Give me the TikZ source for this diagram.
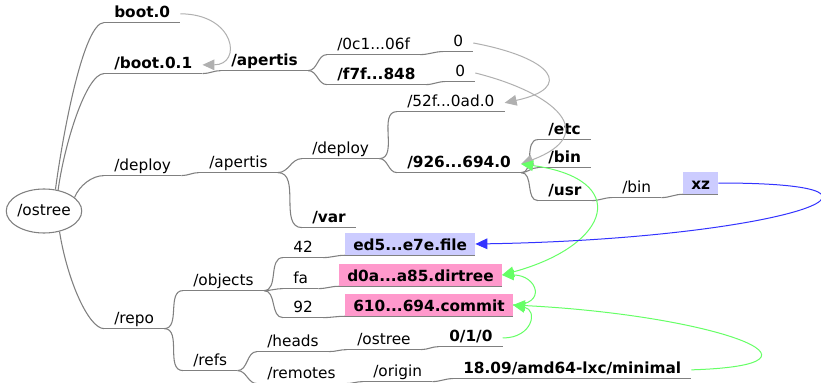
\documentclass[tikz,border=0pt]{standalone}
\usepackage{fontspec}
\setmainfont{DejaVu Sans}
\usetikzlibrary{shapes.geometric,arrows.meta}
\definecolor{edgegrey}{HTML}{808080}
\definecolor{linkgrey}{HTML}{B0B0B0}
\definecolor{linkgreen}{HTML}{66FF66}
\definecolor{linkblue}{HTML}{3333FF}
\definecolor{filemark}{HTML}{CCCCFF}
\definecolor{objpink}{HTML}{FF99CC}
\newcommand{\mapfont}{\fontsize{11.5}{14}\selectfont}
\tikzset{maptip/.tip={Triangle[length=9pt,width=8pt]}}

\begin{document}
\begin{tikzpicture}[x=0.75pt,y=-0.75pt,
    lbl/.style={anchor=base west,inner xsep=7.5pt,inner ysep=0pt,text depth=4pt,font=\mapfont},
    lblb/.style={lbl,font=\mapfont\bfseries},
    objbox/.style={anchor=base west,inner xsep=6pt,inner ysep=0pt,text height=12.75pt,text depth=3.75pt,font=\mapfont\bfseries},
    filebox/.style={objbox,fill=filemark},
    pinkbox/.style={objbox,fill=objpink},
    uline/.style={draw=edgegrey,line width=1pt},
    twig/.style={draw=edgegrey,line width=0.8pt,out=0,in=180},
    greylink/.style={draw=linkgrey,line width=0.75pt,-maptip},
    greenlink/.style={draw=linkgreen,line width=0.75pt,-maptip},
    bluelink/.style={draw=linkblue,line width=0.75pt,-maptip}]
        \path[use as bounding box,fill=white] (0,0) rectangle (821,382);
        \node[ellipse,draw=edgegrey,line width=0.8pt,minimum width=55.5pt,minimum height=33pt,inner sep=0pt,font=\mapfont] (root) at (44,211) {/ostree};
        % boot side
        \node[lblb] (boot0) at (104,17) {boot.0};
        \node[lblb] (boot01) at (104,68) {/boot.0.1};
        \node[lblb] (apertisB) at (221,65) {/apertis};
        \node[lbl] (h0c1) at (327,49) {/0c1...06f};
        \node[lbl] (zeroA) at (443,46) {0};
        \node[lblb] (hf7f) at (327,79) {/f7f...848};
        \node[lbl] (zeroB) at (445,76) {0};
        % deploy side
        \node[lbl] (deployA) at (104,170) {/deploy};
        \node[lbl] (apertisA) at (199,167) {/apertis};
        \node[lbl] (deployB) at (302,153) {/deploy};
        \node[lbl] (h52f) at (397,106) {/52f...0ad.0};
        \node[lblb] (h926) at (397,167) {/926...694.0};
        \node[lblb] (etc) at (538,134) {/etc};
        \node[lblb] (binA) at (538,162) {/bin};
        \node[lblb] (usr) at (538,195) {/usr};
        \node[lbl] (binB) at (612,192) {/bin};
        \node[filebox] (xz) at (683,189) {xz};
        \node[lblb] (var) at (302,222) {/var};
        % repo side
        \node[lbl] (repo) at (104,323) {/repo};
        \node[lbl] (objects) at (183,285) {/objects};
        \node[lbl] (n42) at (283,252) {42};
        \node[filebox] (ed5) at (345,250) {ed5...e7e.file};
        \node[lbl] (fa) at (283,283) {fa};
        \node[pinkbox] (d0a) at (339,281) {d0a...a85.dirtree};
        \node[lbl] (n92) at (283,312) {92};
        \node[pinkbox] (c610) at (345,311) {610...694.commit};
        \node[lbl] (refs) at (183,365) {/refs};
        \node[lbl] (heads) at (257,346) {/heads};
        \node[lbl] (ostreeH) at (347,344) {/ostree};
        \node[lblb] (ref010) at (439,341) {0/1/0};
        \node[lbl] (remotes) at (257,378) {/remotes};
        \node[lbl] (origin) at (363,376) {/origin};
        \node[lblb] (minimal) at (453,373) {18.09/amd64-lxc/minimal};
        \foreach \n in {boot0,boot01,apertisB,h0c1,zeroA,hf7f,zeroB,deployA,apertisA,deployB,h52f,h926,etc,binA,usr,binB,xz,var,repo,objects,n42,ed5,fa,d0a,n92,c610,refs,heads,ostreeH,ref010,remotes,origin,minimal}
          \draw[uline] (\n.south west)--(\n.south east);
        \draw[twig] (root.62) .. controls +(8,-60) and +(-20,0) .. (boot0.south west);
        \draw[twig] (root.56) .. controls +(6,-45) and +(-18,0) .. (boot01.south west);
        \draw[twig] (root.24) .. controls +(5,-12) and +(-12,0) .. (deployA.south west);
        \draw[twig] (root.-53) .. controls +(8,50) and +(-15,0) .. (repo.south west);
        \foreach \a/\b in {boot01/apertisB,apertisB/h0c1,apertisB/hf7f,h0c1/zeroA,hf7f/zeroB,deployA/apertisA,apertisA/deployB,apertisA/var,deployB/h52f,deployB/h926,h926/etc,h926/binA,h926/usr,usr/binB,binB/xz,repo/objects,repo/refs,objects/n42,objects/fa,objects/n92,n42/ed5,fa/d0a,n92/c610,refs/heads,refs/remotes,heads/ostreeH,ostreeH/ref010,remotes/origin,origin/minimal}
          \draw[twig] (\a.south east) to (\b.south west);
        % links
        \draw[greylink] (boot0.east) .. controls +(55,0) and +(40,0) .. (boot01.east);
        \draw[greylink] (zeroA.east) .. controls +(80,15) and +(70,-15) .. (h52f.east);
        \draw[greylink] (zeroB.east) .. controls +(80,20) and +(80,-30) .. (h926.east);
        \draw[greenlink,maptip-maptip] (h926.east) .. controls +(110,15) and +(110,-30) .. (d0a.east);
        \draw[greenlink] (c610.east) .. controls +(35,0) and +(35,0) .. (d0a.east);
        \draw[greenlink] (ref010.east) .. controls +(30,0) and +(25,5) .. (c610.east);
        \draw[greenlink] (minimal.east) .. controls +(160,-5) and +(200,10) .. (c610.east);
        \draw[bluelink] (xz.east) .. controls +(225,0) and +(300,-5) .. (ed5.east);
\end{tikzpicture}
\end{document}
